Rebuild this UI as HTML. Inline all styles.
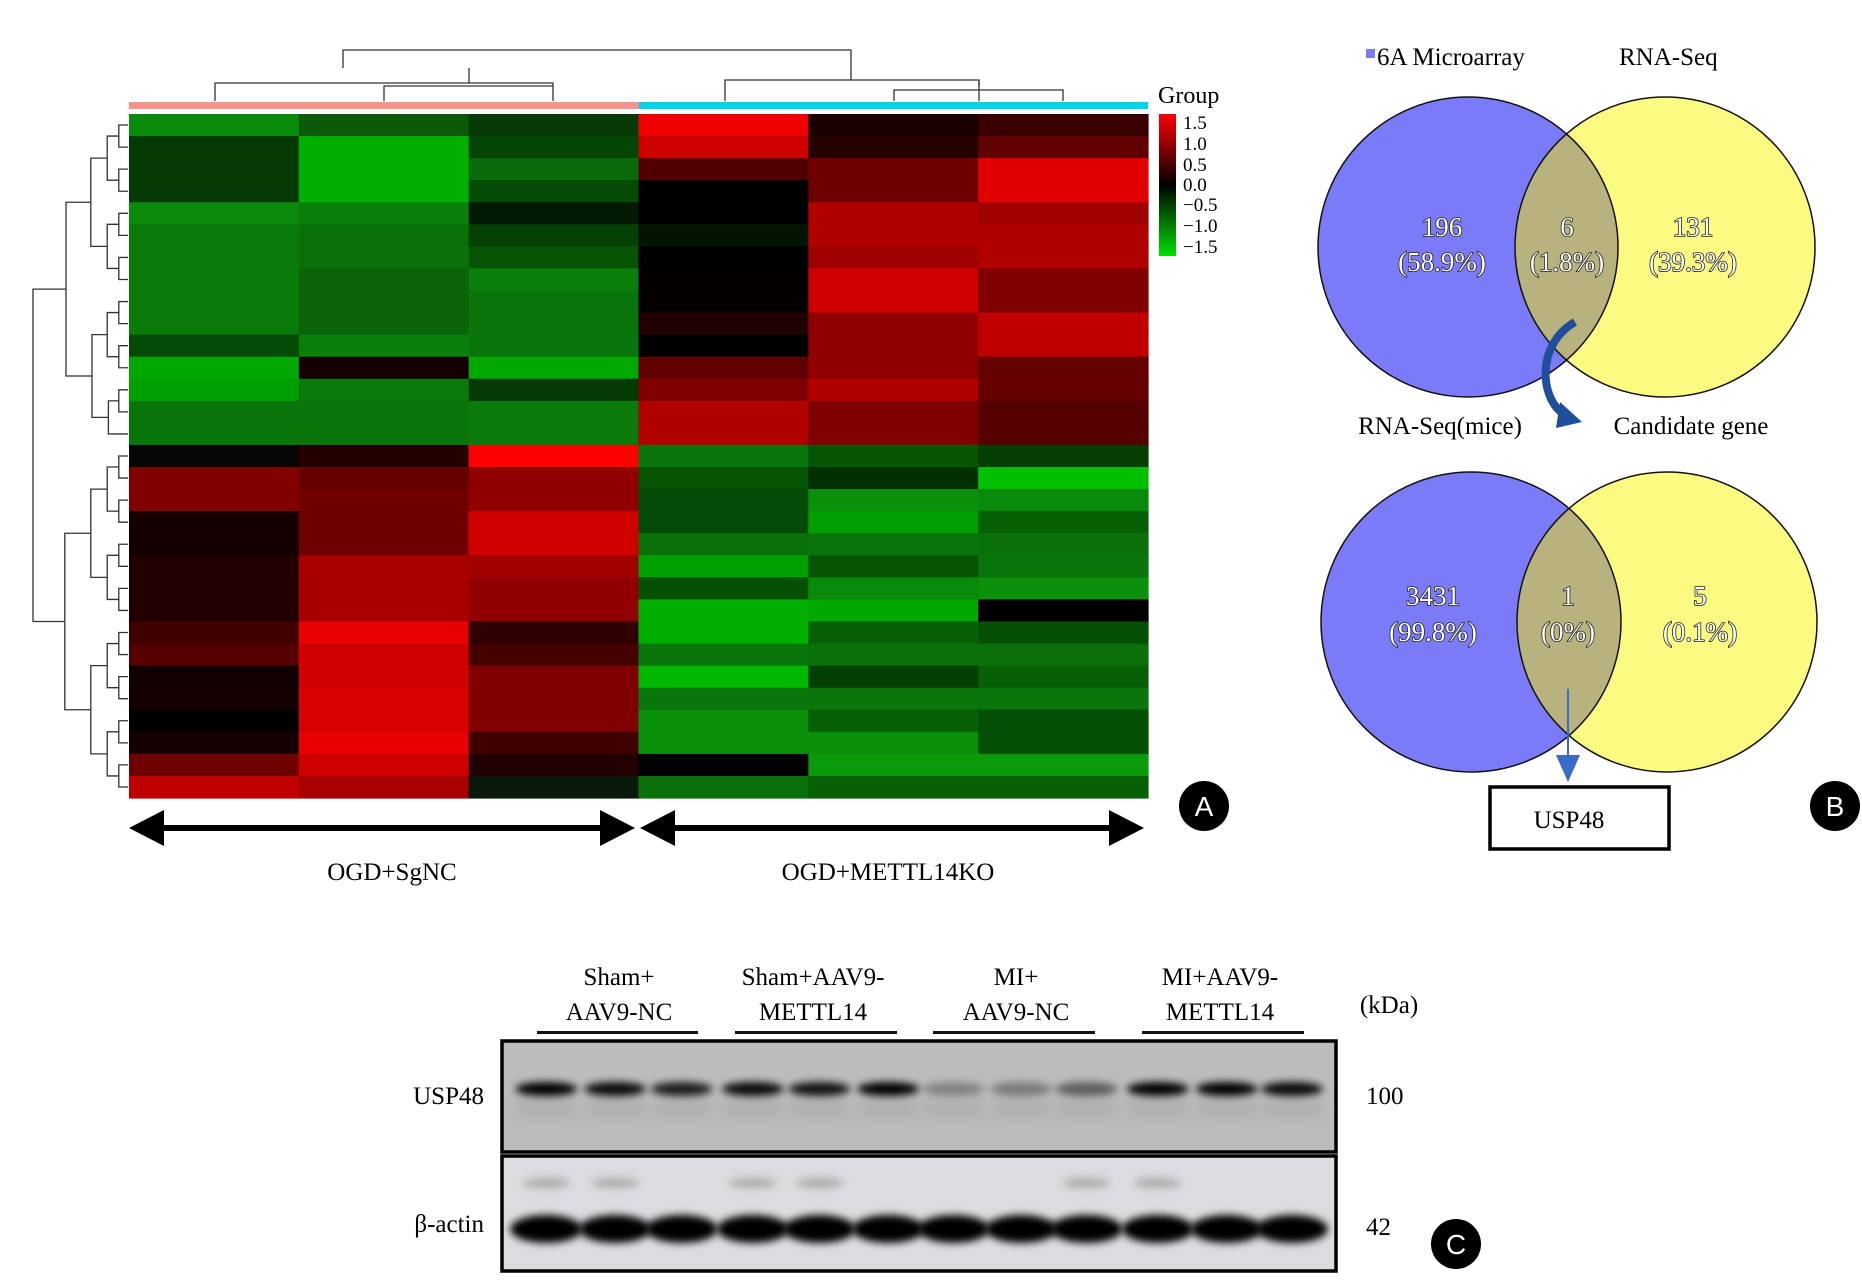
<!DOCTYPE html>
<html><head><meta charset="utf-8"><style>
html,body{margin:0;padding:0;background:#fff;}
svg{display:block;font-family:"Liberation Serif",serif;}
</style></head><body>
<svg id="s" width="1862" height="1282" viewBox="0 0 1862 1282" xmlns="http://www.w3.org/2000/svg">
<defs>
<linearGradient id="cb" x1="0" y1="0" x2="0" y2="1">
<stop offset="0" stop-color="#ff0000"/><stop offset="0.5" stop-color="#000"/><stop offset="1" stop-color="#00e000"/>
</linearGradient>
<filter id="bl" x="-20%" y="-100%" width="140%" height="300%"><feGaussianBlur stdDeviation="4"/></filter>
<filter id="bl2" x="-20%" y="-100%" width="140%" height="300%"><feGaussianBlur stdDeviation="6"/></filter>
<clipPath id="c1"><ellipse cx="1468" cy="247" rx="150" ry="150"/></clipPath>
<clipPath id="c2"><ellipse cx="1471" cy="622" rx="150" ry="150"/></clipPath>
<clipPath id="b1"><rect x="503" y="1042" width="832" height="109"/></clipPath>
<clipPath id="b2"><rect x="503" y="1157" width="832" height="113"/></clipPath>
</defs>
<g id="hm"></g>
<g id="dl" stroke="#333" stroke-width="1.3" fill="none"></g>
<g stroke="#333" stroke-width="1.3" fill="none">
<path d="M343 68 V50 H851 V80"/>
<path d="M215 101 V83 H553 V101 M384 101 V86 H553"/>
<path d="M469 83 V68"/>
<path d="M725 101 V80 H979 V101 M894 101 V90 H1063 V101"/>
<path d="M979 86 V80"/>
</g>
<rect x="129" y="102" width="510" height="7" fill="#f4948a"/>
<rect x="639" y="102" width="509" height="7" fill="#00d4e6"/>
<text x="1158" y="103" font-size="24">Group</text>
<rect x="1159" y="114" width="17" height="142" fill="url(#cb)"/>
<g font-size="19">
<text x="1183" y="129">1.5</text><text x="1183" y="150">1.0</text><text x="1183" y="171">0.5</text>
<text x="1183" y="191">0.0</text><text x="1183" y="211">−0.5</text><text x="1183" y="232">−1.0</text><text x="1183" y="253">−1.5</text>
</g>
<g fill="#000">
<rect x="160" y="825" width="445" height="6"/>
<polygon points="129,828 164,810 164,846"/><polygon points="635,828 600,810 600,846"/>
<rect x="672" y="825" width="440" height="6"/>
<polygon points="640,828 675,810 675,846"/><polygon points="1144,828 1109,810 1109,846"/>
</g>
<g font-size="25" text-anchor="middle">
<text x="392" y="880">OGD+SgNC</text><text x="888" y="880">OGD+METTL14KO</text>
</g>
<circle cx="1204" cy="806" r="25" fill="#000"/><text x="1204" y="816" font-family="Liberation Sans,sans-serif" font-size="28" fill="#fff" text-anchor="middle">A</text>
<rect x="1366" y="49" width="9" height="9" fill="#7b7bf8"/>
<text x="1377" y="65" font-size="25">6A Microarray</text>
<text x="1619" y="65" font-size="25">RNA-Seq</text>
<ellipse cx="1468" cy="247" rx="150" ry="150" fill="#7b7bf8"/>
<ellipse cx="1665" cy="247" rx="150" ry="150" fill="#fbfb82"/>
<ellipse cx="1665" cy="247" rx="150" ry="150" fill="#b8b27e" clip-path="url(#c1)"/>
<ellipse cx="1468" cy="247" rx="150" ry="150" fill="none" stroke="#111" stroke-width="1.5"/>
<ellipse cx="1665" cy="247" rx="150" ry="150" fill="none" stroke="#111" stroke-width="1.5"/>
<ellipse cx="1471" cy="622" rx="150" ry="150" fill="#7b7bf8"/>
<ellipse cx="1667" cy="622" rx="150" ry="150" fill="#fbfb82"/>
<ellipse cx="1667" cy="622" rx="150" ry="150" fill="#b8b27e" clip-path="url(#c2)"/>
<ellipse cx="1471" cy="622" rx="150" ry="150" fill="none" stroke="#111" stroke-width="1.5"/>
<ellipse cx="1667" cy="622" rx="150" ry="150" fill="none" stroke="#111" stroke-width="1.5"/>
<g font-size="27" text-anchor="middle" fill="#fff" stroke="#222" stroke-width="1.6" paint-order="stroke">
<text x="1442" y="236">196</text><text x="1442" y="271">(58.9%)</text>
<text x="1567" y="236">6</text><text x="1567" y="271">(1.8%)</text>
<text x="1693" y="236">131</text><text x="1693" y="271">(39.3%)</text>
<text x="1433" y="605">3431</text><text x="1433" y="641">(99.8%)</text>
<text x="1568" y="605">1</text><text x="1568" y="641">(0%)</text>
<text x="1700" y="605">5</text><text x="1700" y="641">(0.1%)</text>
</g>
<path d="M1575 322 C1535 345 1540 400 1565 415" fill="none" stroke="#1f4f9a" stroke-width="8"/>
<polygon points="1560,402 1582,422 1556,428" fill="#1f4f9a"/>
<g font-size="25" text-anchor="middle"><text x="1440" y="434">RNA-Seq(mice)</text><text x="1691" y="434">Candidate gene</text></g>
<line x1="1568" y1="689" x2="1568" y2="760" stroke="#3a6ac8" stroke-width="2"/>
<polygon points="1556,755 1580,755 1568,782" fill="#3a6ac8"/>
<rect x="1490" y="787" width="179" height="62" fill="#fff" stroke="#000" stroke-width="3.5"/>
<text x="1569" y="828" font-size="25" text-anchor="middle">USP48</text>
<circle cx="1835" cy="806" r="25" fill="#000"/><text x="1835" y="816" font-family="Liberation Sans,sans-serif" font-size="28" fill="#fff" text-anchor="middle">B</text>
<g font-size="25" text-anchor="middle">
<text x="619" y="985">Sham+</text><text x="619" y="1020">AAV9-NC</text>
<text x="813" y="985">Sham+AAV9-</text><text x="813" y="1020">METTL14</text>
<text x="1016" y="985">MI+</text><text x="1016" y="1020">AAV9-NC</text>
<text x="1220" y="985">MI+AAV9-</text><text x="1220" y="1020">METTL14</text>
<text x="1389" y="1013">(kDa)</text>
</g>
<g fill="#111"><rect x="537" y="1031" width="161" height="3"/><rect x="735" y="1031" width="162" height="3"/><rect x="933" y="1031" width="162" height="3"/><rect x="1142" y="1031" width="162" height="3"/></g>
<rect x="502" y="1041" width="834" height="111" fill="#bcbcbc" stroke="#000" stroke-width="3.5"/>
<rect x="502" y="1156" width="834" height="115" fill="#dcdce0" stroke="#000" stroke-width="3.5"/>
<g id="bands"></g>
<g font-size="25">
<text x="484" y="1104" text-anchor="end">USP48</text><text x="484" y="1232" text-anchor="end">β-actin</text>
<text x="1366" y="1104">100</text><text x="1366" y="1235">42</text>
</g>
<circle cx="1456" cy="1244" r="25" fill="#000"/><text x="1456" y="1254" font-family="Liberation Sans,sans-serif" font-size="28" fill="#fff" text-anchor="middle">C</text>
</svg>
<script>
var rows=[
["0a8a0a","0a5a0a","053a05","f00000","1a0000","3a0000"],
["033a03","00b000","054505","d00000","250000","600000"],
["033a03","00b000","0a6a0a","500000","700000","e00000"],
["033a03","00b000","054a05","000000","700000","e00000"],
["0a8a0a","0a800a","021a02","000000","b00000","a00000"],
["0a7a0a","0a700a","054005","021502","b00000","b00000"],
["0a7a0a","0a700a","055505","000000","a00000","b00000"],
["0a7a0a","0a650a","0a800a","050000","d00000","800000"],
["0a7a0a","0a650a","0a750a","050000","d00000","800000"],
["0a7a0a","0a650a","0a750a","200000","900000","c00000"],
["054a05","0a800a","0a750a","000000","900000","c00000"],
["00a800","150000","00a800","600000","900000","650000"],
["00a000","0a7a0a","053a05","800000","b00000","650000"],
["0a750a","0a750a","0a7a0a","b00000","800000","550000"],
["0a750a","0a750a","0a7a0a","b00000","800000","550000"],
["050505","250000","ff0000","0a750a","055505","044004"],
["800000","650000","900000","055505","033003","00c000"],
["800000","700000","900000","054a05","0a900a","0a8a0a"],
["150000","700000","d00000","054a05","00a000","066006"],
["150000","700000","d00000","0a700a","0a750a","0a700a"],
["200000","a80000","a00000","00a000","055505","0a750a"],
["200000","a80000","900000","055005","0a8a0a","0a900a"],
["200000","a80000","900000","00b000","00a800","000000"],
["400000","e80000","300000","00b000","066006","055005"],
["550000","d00000","450000","0a750a","0a700a","0a700a"],
["100000","d00000","800000","00b800","034003","066006"],
["150000","d80000","800000","0a750a","0a750a","0a750a"],
["000000","d80000","800000","0a900a","066006","055005"],
["150000","e80000","400000","0a900a","0a900a","055005"],
["700000","d00000","200000","000000","0a9a0a","0a9a0a"],
["c00000","a80000","0a1a0a","0a700a","066006","066006"]];
var NS="http://www.w3.org/2000/svg",hm=document.getElementById("hm");
var x0=129,y0=114,cw=(1148-129)/6,rh=(798-114)/31;
function el(t,a,p){var e=document.createElementNS(NS,t);for(var k in a)e.setAttribute(k,a[k]);p.appendChild(e);return e;}
rows.forEach(function(r,i){r.forEach(function(c,j){el("rect",{x:x0+j*cw,y:y0+i*rh,width:cw+0.6,height:rh+0.6,fill:"#"+c},hm);});});
var dl=document.getElementById("dl");
function den(lo,hi){
 if(lo==hi)return [y0+(lo+0.5)*rh,128];
 var m=Math.floor((lo+hi)/2),a=den(lo,m),b=den(m+1,hi);
 var x=Math.min(a[1],b[1])-8-(hi-lo)*1.2;
 el("path",{d:"M"+a[1]+" "+a[0]+"H"+x+"V"+b[0]+"H"+b[1]},dl);
 return [(a[0]+b[0])/2,x];}
var t=den(0,14),b=den(15,30);
el("path",{d:"M"+t[1]+" "+t[0]+"H33V"+b[0]+"H"+b[1]},dl);
var bd=document.getElementById("bands");
var g1=el("g",{"clip-path":"url(#b1)"},bd),g2=el("g",{"clip-path":"url(#b2)"},bd);
var cx=[460,518,574,634,690,748,803,860,915,975,1033,1088].map(function(v){return v*1.1875;});
var op=[1,0.95,0.85,0.95,0.9,1,0.3,0.35,0.5,1,1,0.95];
var faint=[1,1,0,1,1,0,0,0,1,1,0,0];
cx.forEach(function(x,i){
 el("rect",{x:x-30,y:1100,width:60,height:18,fill:"#a8a8a8",opacity:0.6,filter:"url(#bl2)"},g1);
 el("ellipse",{cx:x,cy:1089,rx:31,ry:7,fill:"#000",opacity:op[i],filter:"url(#bl)"},g1);
 if(faint[i])el("ellipse",{cx:x,cy:1183,rx:24,ry:5,fill:"#999",opacity:0.7,filter:"url(#bl)"},g2);
 el("ellipse",{cx:x,cy:1229,rx:36,ry:14,fill:"#000",filter:"url(#bl)"},g2);
});
</script>
</body></html>
